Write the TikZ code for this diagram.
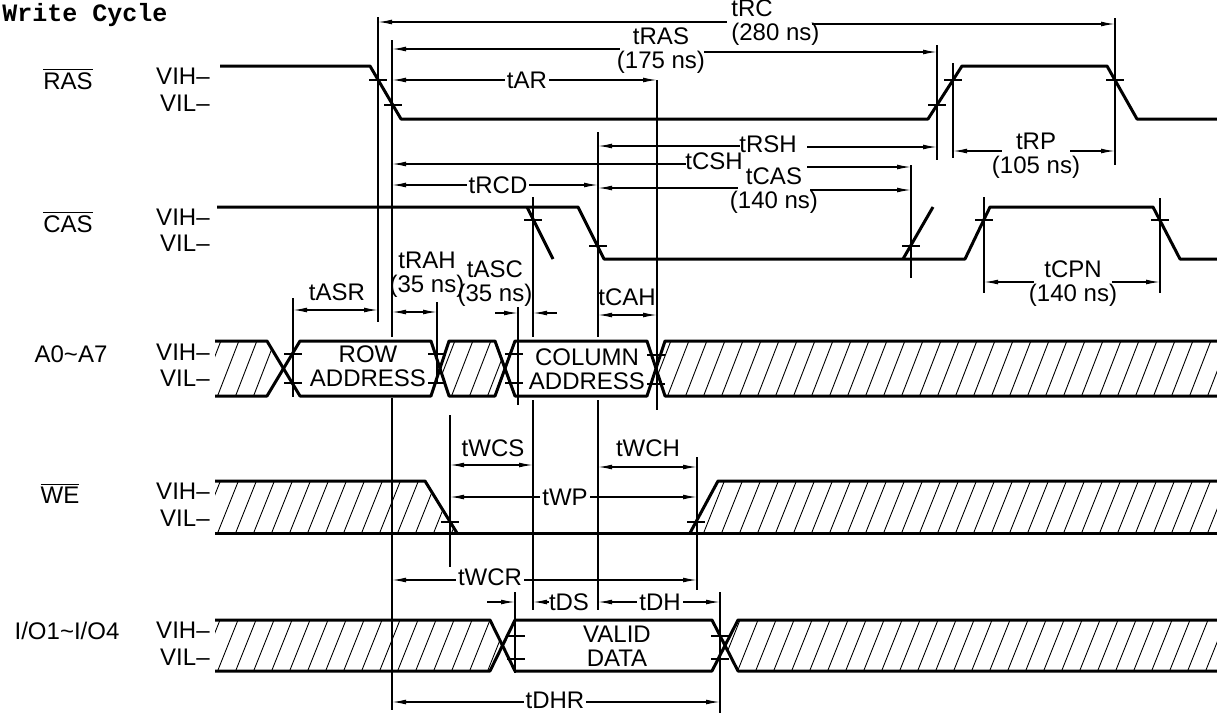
\documentclass[tikz,border=0pt]{standalone}
\usepackage{fontspec}
\setmainfont{Liberation Sans}
\newfontfamily\titlefont{Liberation Mono}
\usetikzlibrary{arrows.meta}

\begin{document}
\begin{tikzpicture}[x=0.5pt,y=-0.5pt,
  sig/.style={line width=1.5pt,line join=round},
  guide/.style={line width=0.6pt},
  dim/.style={line width=0.6pt},
  tick/.style={line width=0.6pt},
  hatch/.style={line width=0.45pt},
  lbl/.style={font=\fontsize{12}{12}\selectfont,inner sep=1pt,align=center},
  >={Latex[length=7pt,width=2.4pt]}]
\useasboundingbox (0,0) rectangle (1217,713);
\clip (0,0) rectangle (1217,713);

\node[anchor=base west,inner sep=0pt,font=\titlefont\bfseries\fontsize{12.5}{14}\selectfont] (title) at (2,21) {Write Cycle};

% signal names
\node[lbl] (nRAS) at (68,79) {$\overline{\mbox{RAS}}$};
\node[lbl] (nCAS) at (68,222) {$\overline{\mbox{CAS}}$};
\node[lbl] (nADR) at (71,354) {A0\textasciitilde A7};
\node[lbl] (nWE) at (60,493) {$\overline{\mbox{WE}}$};
\node[lbl] (nIO) at (67,631) {I/O1\textasciitilde I/O4};
\foreach \r/\h/\l in {ras/76/103, cas/217/243, adr/352/378, we/491/518, io/630/657}
{
  \node[lbl,anchor=east] (vih\r) at (212,\h) {VIH--};
  \node[lbl,anchor=east] (vil\r) at (212,\l) {VIL--};
}

% hatching
\begin{scope}
\clip (215,341) -- (267,341) -- (283.5,368.5) -- (267,396) -- (215,396) -- cycle;
\foreach \x in {180,198,...,300} \draw[hatch] (\x,400) -- ++(24,-62);
\end{scope}
\begin{scope}
\clip (440,368.5) -- (449,341) -- (495,341) -- (505,368.5) -- (495,396) -- (449,396) -- cycle;
\foreach \x in {414,432,...,520} \draw[hatch] (\x,400) -- ++(24,-62);
\end{scope}
\begin{scope}
\clip (656,368.5) -- (665,341) -- (1217,341) -- (1217,396) -- (665,396) -- cycle;
\foreach \x in {630,648,...,1240} \draw[hatch] (\x,400) -- ++(24,-62);
\end{scope}
\begin{scope}
\clip (215,481) -- (425,481) -- (457,533) -- (215,533) -- cycle;
\foreach \x in {180,198,...,470} \draw[hatch] (\x,537) -- ++(24,-60);
\end{scope}
\begin{scope}
\clip (690,533) -- (718,481) -- (1217,481) -- (1217,533) -- cycle;
\foreach \x in {666,684,...,1240} \draw[hatch] (\x,537) -- ++(24,-60);
\end{scope}
\begin{scope}
\clip (215,620) -- (490,620) -- (502.5,645.5) -- (490,671) -- (215,671) -- cycle;
\foreach \x in {180,198,...,520} \draw[hatch] (\x,675) -- ++(24,-60);
\end{scope}
\begin{scope}
\clip (725,645.5) -- (738,620) -- (1217,620) -- (1217,671) -- (738,671) -- cycle;
\foreach \x in {700,718,...,1240} \draw[hatch] (\x,675) -- ++(24,-60);
\end{scope}

% waveforms
\draw[sig] (220,66) -- (370,66) -- (401,119) -- (928,119) -- (962,66) -- (1107,66) -- (1137,119) -- (1217,119);
\draw[sig] (217,207) -- (578,207) -- (604,259) -- (965,259) -- (990,207) -- (1153,207) -- (1180,259) -- (1217,259);
\draw[sig] (527,207) -- (553,259);
\draw[sig] (903,259) -- (933,207);
\draw[sig] (215,341) -- (267,341) -- (300,396) -- (431,396) -- (449,341) -- (495,341) -- (515,396) -- (647,396) -- (665,341) -- (1217,341);
\draw[sig] (215,396) -- (267,396) -- (300,341) -- (431,341) -- (449,396) -- (495,396) -- (515,341) -- (647,341) -- (665,396) -- (1217,396);
\draw[sig] (215,481) -- (425,481) -- (457,533);
\draw[sig] (215,533) -- (1217,533);
\draw[sig] (690,533) -- (718,481) -- (1217,481);
\draw[sig] (215,620) -- (490,620) -- (515,671) -- (712,671) -- (738,620) -- (1217,620);
\draw[sig] (215,671) -- (490,671) -- (515,620) -- (712,620) -- (738,671) -- (1217,671);

\node[lbl] (row) at (368,366) {ROW\\ADDRESS};
\node[lbl] (col) at (587,369) {COLUMN\\ADDRESS};
\node[lbl] (vd) at (617,646) {VALID\\DATA};

% reference lines and level marks
\foreach \x/\a/\b in {378/17/322, 392/40/337, 392/398/710, 937/45/160, 953/63/158, 1115/18/165,
  533/197/337, 533/400/610, 598/132/337, 598/400/610, 911/165/278, 984/197/293, 1160/198/293,
  657/80/410, 293/298/397, 437/302/383, 518/307/405, 450/415/567, 697/457/590, 515/592/673, 720/592/713}
  \draw[guide] (\x,\a) -- (\x,\b);
\foreach \x/\y in {378/80, 393/105, 937/105, 953/80, 1115/80, 533/220, 598/246, 911/246, 984/220, 1160/220,
  293/354, 293/383, 437/354, 437/383, 514/354, 514/383, 656/355, 656/384, 450/522, 696/522,
  516/636, 516/659, 720/636, 720/659}
  \draw[tick] (\x-9,\y) -- (\x+9,\y);

% timing arrows
\draw[dim,<-] (378,22) -- (727,22);
\draw[dim,->] (812,24) -- (1115,24);
\node[lbl,anchor=west,align=left] (lRC) at (729,23) {tRC\\(280 ns)};
\draw[dim,<-] (392,49) -- (620,49);
\draw[dim,->] (704,52) -- (937,52);
\node[lbl] (lRAS) at (661,51) {tRAS\\(175 ns)};
\draw[dim,<->] (392,80) -- (657,80);
\node[lbl,fill=white] (lAR) at (527,80) {tAR};
\draw[dim,<-] (598,146) -- (740,146);
\draw[dim,->] (807,147) -- (937,147);
\node[lbl] (lRSH) at (768,144) {tRSH};
\draw[dim,<-] (392,164) -- (686,164);
\draw[dim,->] (807,167) -- (911,167);
\node[lbl] (lCSH) at (714,161) {tCSH};
\draw[dim,<->] (392,185) -- (598,185);
\node[lbl,fill=white] (lRCD) at (498,185) {tRCD};
\draw[dim,<-] (598,188) -- (738,188);
\draw[dim,->] (810,190) -- (911,190);
\node[lbl] (lCAS) at (774,191) {tCAS\\(140 ns)};
\draw[dim,<-] (953,151) -- (1002,151);
\draw[dim,->] (1070,151) -- (1115,151);
\node[lbl] (lRP) at (1036,156) {tRP\\(105 ns)};
\draw[dim,<-] (984,282) -- (1034,282);
\draw[dim,->] (1112,282) -- (1160,282);
\node[lbl] (lCPN) at (1073,284) {tCPN\\(140 ns)};
\draw[dim,<->] (293,310) -- (378,310);
\node[lbl] (lASR) at (337,292) {tASR};
\draw[dim,<->] (392,312) -- (437,312);
\node[lbl] (lRAH) at (427,275) {tRAH\\(35 ns)};
\draw[dim,->] (495,313) -- (518,313);
\draw[dim,<-] (533,313) -- (557,313);
\node[lbl] (lASC) at (495,284) {tASC\\(35 ns)};
\draw[dim,<->] (598,315) -- (657,315);
\node[lbl] (lCAH) at (627,297) {tCAH};
\draw[dim,<->] (450,465) -- (533,465);
\node[lbl] (lWCS) at (493,448) {tWCS};
\draw[dim,<->] (598,467) -- (697,467);
\node[lbl] (lWCH) at (648,448) {tWCH};
\draw[dim,<->] (450,497) -- (697,497);
\node[lbl,fill=white] (lWP) at (565,497) {tWP};
\draw[dim,<->] (392,580) -- (697,580);
\node[lbl,fill=white] (lWCR) at (490,577) {tWCR};
\draw[dim,->] (487,602) -- (515,602);
\draw[dim,<-] (533,602) -- (549,602);
\node[lbl] (lDS) at (569,602) {tDS};
\draw[dim,<->] (598,602) -- (720,602);
\node[lbl,fill=white] (lDH) at (660,602) {tDH};
\draw[dim,<->] (392,702) -- (720,702);
\node[lbl,fill=white] (lDHR) at (555,700) {tDHR};
\end{tikzpicture}
\end{document}
